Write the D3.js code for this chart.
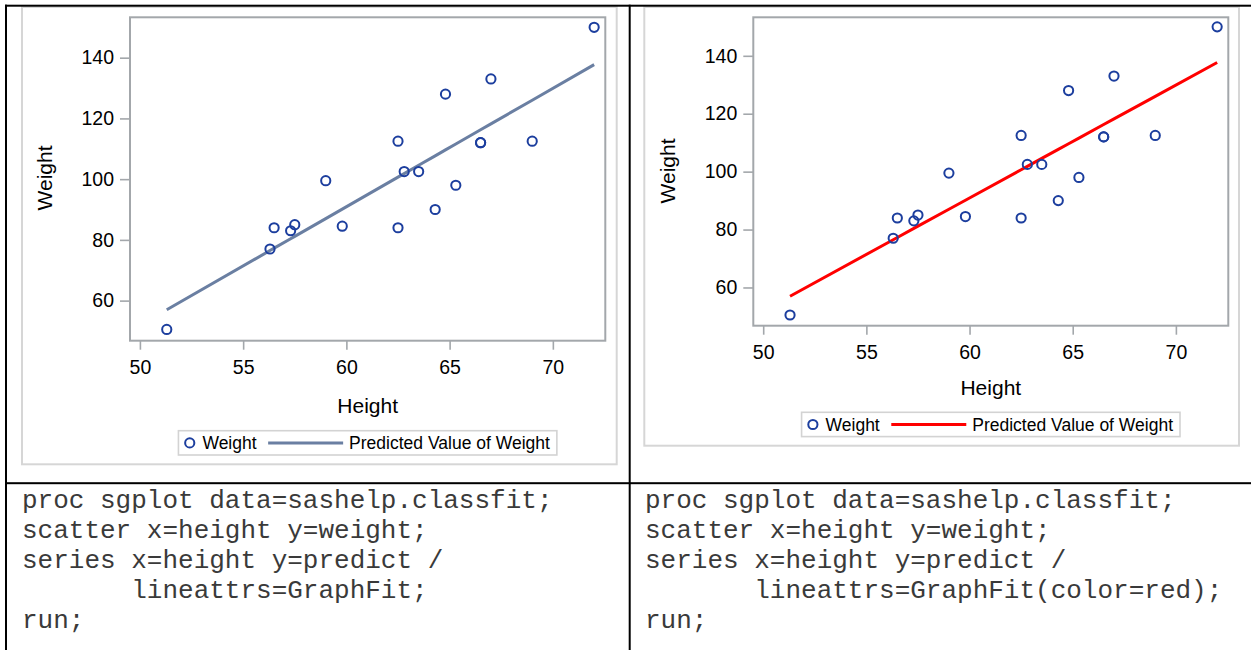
<!DOCTYPE html>
<html>
<head>
<meta charset="utf-8">
<script src="https://cdn.jsdelivr.net/npm/d3@7"></script>
<style>
  html, body { margin: 0; padding: 0; background: #fff; }
  svg { display: block; }
  text { font-family: "Liberation Sans", Arial, sans-serif; fill: #000; }
  .code { font-family: "Liberation Mono", "Courier New", monospace; font-size: 26px; fill: #3a3a3a; white-space: pre; }
</style>
</head>
<body>
<svg id="page" width="1251" height="650"></svg>
<script>
// sashelp.classfit のデータ
var heights   = [51.3, 56.3, 56.5, 57.3, 57.5, 59.0, 59.8, 62.5, 62.5, 62.8, 63.5, 64.3, 64.8, 65.3, 66.5, 66.5, 67.0, 69.0, 72.0];
var weights   = [50.5, 77.0, 84.0, 83.0, 85.0, 99.5, 84.5, 112.5, 84.0, 102.5, 102.5, 90.0, 128.0, 98.0, 112.0, 112.0, 133.0, 112.5, 150.0];
var predicted = [56.99, 76.49, 77.27, 80.39, 81.17, 87.01, 90.13, 100.66, 100.66, 101.83, 104.56, 107.68, 109.63, 111.58, 116.26, 116.26, 118.21, 126.00, 137.70];
var xTicks = [50, 55, 60, 65, 70];
var yTicks = [60, 80, 100, 120, 140];
var legendLabels = ["Weight", "Predicted Value of Weight"];

// 下の段のコード
var codeLeft = [
	"proc sgplot data=sashelp.classfit;",
	"scatter x=height y=weight;",
	"series x=height y=predict /",
	"       lineattrs=GraphFit;",
	"run;"
];
var codeRight = [
	"proc sgplot data=sashelp.classfit;",
	"scatter x=height y=weight;",
	"series x=height y=predict /",
	"       lineattrs=GraphFit(color=red);",
	"run;"
];

var svg = d3.select("#page");
var markerColor = "#1c3e9e";
var axisColor = "#a3a7ab";

function drawChart(cfg) {
	var g = svg.append("g");
	// 外枠
	g.append("rect")
		.attr("x", cfg.frame[0]).attr("y", cfg.frame[1])
		.attr("width", cfg.frame[2] - cfg.frame[0])
		.attr("height", cfg.frame[3] - cfg.frame[1])
		.attr("fill", "#fff")
		.attr("stroke", "#d6d6d6")
		.attr("stroke-width", 2);

	var x = d3.scaleLinear().domain([49.52, 72.54]).range([cfg.left, cfg.right]);
	var y = d3.scaleLinear().domain([46.8, 153.3]).range([cfg.bottom, cfg.top]);

	// 軸
	var xAxis = g.append("g")
		.attr("transform", "translate(0," + cfg.bottom + ")")
		.call(d3.axisBottom(x).tickValues(xTicks).tickSize(9).tickPadding(7).tickSizeOuter(0));
	var yAxis = g.append("g")
		.attr("transform", "translate(" + cfg.left + ",0)")
		.call(d3.axisLeft(y).tickValues(yTicks).tickSize(10).tickPadding(6).tickSizeOuter(0));
	[xAxis, yAxis].forEach(function(a){
		a.select(".domain").remove();
		a.selectAll(".tick line").attr("stroke", axisColor).attr("stroke-width", 1.6);
		a.selectAll(".tick text")
			.style("font-family", "'Liberation Sans', Arial, sans-serif")
			.style("font-size", "19.5px")
			.attr("fill", "#000");
	});
	xAxis.selectAll(".tick text").attr("dy", "0.9em");

	// プロット領域の枠
	g.append("rect")
		.attr("x", cfg.left).attr("y", cfg.top)
		.attr("width", cfg.right - cfg.left)
		.attr("height", cfg.bottom - cfg.top)
		.attr("fill", "none")
		.attr("stroke", axisColor)
		.attr("stroke-width", 2);

	// 回帰直線
	var pts = heights.map(function(h, i){ return [h, predicted[i]]; });
	g.append("path")
		.datum(pts)
		.attr("fill", "none")
		.attr("stroke", cfg.lineColor)
		.attr("stroke-width", 3)
		.attr("d", d3.line().x(function(d){ return x(d[0]); }).y(function(d){ return y(d[1]); }));

	// 散布図
	g.selectAll("circle.pt")
		.data(heights)
		.enter()
		.append("circle")
		.attr("class", "pt")
		.attr("cx", function(d){ return x(d); })
		.attr("cy", function(d, i){ return y(weights[i]); })
		.attr("r", 4.6)
		.attr("fill", "none")
		.attr("stroke", markerColor)
		.attr("stroke-width", 2);

	// 軸ラベル
	g.append("text")
		.attr("x", (cfg.left + cfg.right) / 2)
		.attr("y", cfg.bottom + cfg.xLabelDy)
		.attr("text-anchor", "middle")
		.style("font-size", "21px")
		.text("Height");
	g.append("text")
		.attr("transform", "translate(" + (cfg.left - 78) + "," + cfg.yLabelCy + ") rotate(-90)")
		.attr("text-anchor", "middle")
		.style("font-size", "21px")
		.text("Weight");

	// 凡例
	var lg = g.append("g");
	var box = lg.append("rect")
		.attr("y", 0).attr("height", 24.3)
		.attr("fill", "#fff")
		.attr("stroke", "#d3d3d3")
		.attr("stroke-width", 1.6);
	lg.append("circle")
		.attr("cx", 11.3).attr("cy", 12.2).attr("r", 4.6)
		.attr("fill", "none").attr("stroke", markerColor).attr("stroke-width", 2);
	lg.append("text").attr("x", 24).attr("y", 18.3)
		.style("font-size", "17.5px").text(legendLabels[0]);
	lg.append("line")
		.attr("x1", 89.7).attr("x2", 164.7).attr("y1", 12.2).attr("y2", 12.2)
		.attr("stroke", cfg.lineColor).attr("stroke-width", 3);
	var t2 = lg.append("text").attr("x", 170.7).attr("y", 18.3)
		.style("font-size", "17.5px").text(legendLabels[1]);
	var w = 170.7 + t2.node().getComputedTextLength() + 7;
	box.attr("x", 0).attr("width", w);
	lg.attr("transform", "translate(" + ((cfg.left + cfg.right) / 2 - w / 2) + "," + cfg.legendTop + ")");
}

drawChart({
	left: 130, right: 605.3, top: 17.3, bottom: 340.7,
	frame: [22, 7, 616.7, 464.3],
	lineColor: "#6a7fa2",
	xLabelDy: 72, yLabelCy: 178,
	legendTop: 430.7
});
drawChart({
	left: 753.3, right: 1228.3, top: 17.3, bottom: 325.7,
	frame: [644.3, 7, 1239, 445.7],
	lineColor: "#ff0000",
	xLabelDy: 69, yLabelCy: 171,
	legendTop: 412.3
});

// 表の罫線
svg.append("rect").attr("x", 5).attr("y", 4.7).attr("width", 1246).attr("height", 2).attr("fill", "#000");
svg.append("rect").attr("x", 5).attr("y", 4.7).attr("width", 2).attr("height", 646).attr("fill", "#000");
svg.append("rect").attr("x", 628.7).attr("y", 4.7).attr("width", 2).attr("height", 646).attr("fill", "#000");
svg.append("rect").attr("x", 5).attr("y", 482.2).attr("width", 1246).attr("height", 2).attr("fill", "#000");

// コード
[[codeLeft, 22], [codeRight, 645]].forEach(function(c){
	svg.append("g").selectAll("text")
		.data(c[0])
		.enter()
		.append("text")
		.attr("class", "code")
		.attr("x", c[1])
		.attr("y", function(d, i){ return 508 + i * 30; })
		.attr("xml:space", "preserve")
		.text(function(d){ return d; });
});
</script>
</body>
</html>
